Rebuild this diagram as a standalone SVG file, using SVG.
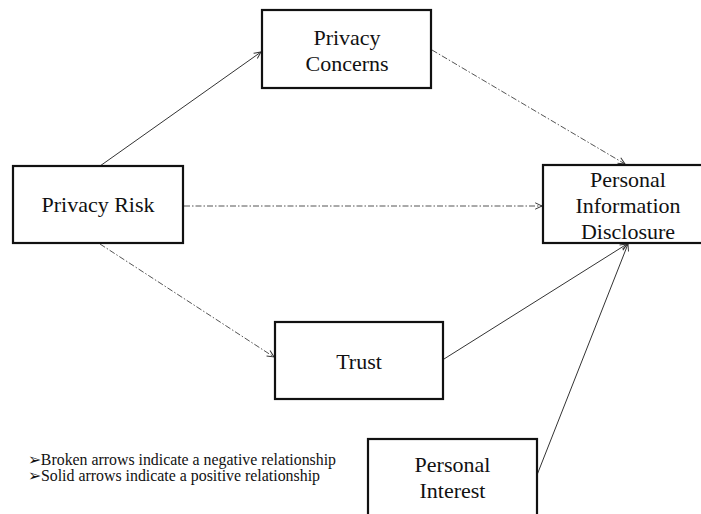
<svg xmlns="http://www.w3.org/2000/svg" width="701" height="514" viewBox="0 0 701 514">
<style>
.box{fill:#fff;stroke:#111;stroke-width:2.2}
.lbl{font-family:"Liberation Serif","Times New Roman",serif;font-size:22px;fill:#111;text-anchor:middle}
.leg{font-family:"Liberation Serif","Times New Roman",serif;font-size:16px;fill:#111}
.solid{stroke:#333;stroke-width:1;fill:none;marker-end:url(#ah)}
.dash{stroke:#555;stroke-width:1;fill:none;stroke-dasharray:6 2 1.5 2;marker-end:url(#ah)}
</style>
<defs>
<marker id="ah" viewBox="0 0 10 10" refX="9.5" refY="5" markerWidth="8" markerHeight="8" markerUnits="userSpaceOnUse" orient="auto">
<path d="M1,1 L9.5,5 L1,9" fill="none" stroke="#333" stroke-width="1.2"/>
</marker>
</defs>
<rect width="701" height="514" fill="#fff"/>
<g id="connectors">
<line class="solid" x1="100" y1="166" x2="261" y2="52"/>
<line class="dash" x1="432" y1="50" x2="625" y2="164"/>
<line class="dash" x1="184" y1="206" x2="542" y2="206"/>
<line class="dash" x1="100" y1="244" x2="274" y2="357"/>
<line class="solid" x1="444" y1="359" x2="627" y2="244"/>
<line class="solid" x1="537" y1="475" x2="628" y2="244"/>
</g>
<g id="privacy-concerns">
<rect class="box" x="262" y="10" width="169" height="78"/>
<text class="lbl" x="347" y="45">Privacy</text>
<text class="lbl" x="347" y="71">Concerns</text>
</g>
<g id="privacy-risk">
<rect class="box" x="13" y="166" width="170" height="77"/>
<text class="lbl" x="98" y="212">Privacy Risk</text>
</g>
<g id="personal-information-disclosure">
<rect class="box" x="543" y="165" width="170" height="78"/>
<text class="lbl" x="628" y="187">Personal</text>
<text class="lbl" x="628" y="213">Information</text>
<text class="lbl" x="628" y="239">Disclosure</text>
</g>
<g id="trust">
<rect class="box" x="275" y="322" width="168" height="77"/>
<text class="lbl" x="359" y="369">Trust</text>
</g>
<g id="personal-interest">
<rect class="box" x="368" y="439" width="169" height="90"/>
<text class="lbl" x="452.5" y="472">Personal</text>
<text class="lbl" x="452.5" y="498">Interest</text>
</g>
<g id="legend">
<text class="leg" x="28" y="465" textLength="308" lengthAdjust="spacingAndGlyphs">➢Broken arrows indicate a negative relationship</text>
<text class="leg" x="28" y="481" textLength="292" lengthAdjust="spacingAndGlyphs">➢Solid arrows indicate a positive relationship</text>
</g>
</svg>
